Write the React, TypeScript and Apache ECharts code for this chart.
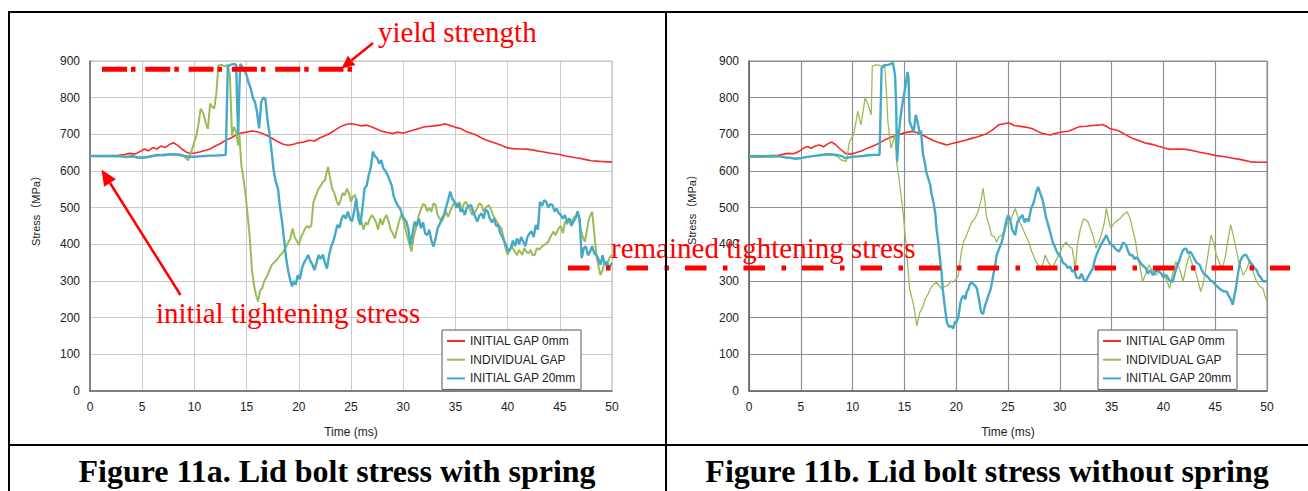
import React, { useEffect, useRef } from "react";
import * as echarts from "echarts";

const SERIES_NAMES = ["INITIAL GAP 0mm", "INDIVIDUAL GAP", "INITIAL GAP 20mm"];
const X_NAME = "Time (ms)";
const Y_NAME = "Stress（MPa）";
const CAPTION_A = "Figure 11a. Lid bolt stress with spring";
const CAPTION_B = "Figure 11b. Lid bolt stress without spring";
const NOTE_YIELD = "yield strength";
const NOTE_INITIAL = "initial tightening stress";
const NOTE_REMAINED = "remained tightening stress";

// ---- Figure 11a (with spring) ----
const redA = [[0,641],[1,641],[2,642],[2.7,643],[3.3,645],[3.8,648],[4.3,646],[4.8,653],[5.2,660],[5.6,655],[6,664],[6.4,660],[6.8,668],[7.2,664],[7.6,672],[8,677],[8.4,670],[8.8,660],[9.2,652],[9.6,648],[10,649],[10.5,652],[11,656],[11.5,660],[12,668],[12.5,675],[13,684],[13.5,690],[14,698],[14.5,704],[15,706],[15.5,709],[16,707],[16.5,702],[17,696],[17.5,688],[18,680],[18.5,673],[19,670],[19.5,673],[20,677],[20.5,679],[21,684],[21.5,682],[22,690],[22.5,696],[23,703],[23.5,712],[24,721],[24.5,727],[25,729],[25.5,727],[26,723],[26.5,725],[27,720],[27.5,714],[28,708],[28.5,705],[29,702],[29.5,706],[30,703],[30.5,708],[31,712],[31.5,716],[32,720],[32.5,722],[33,723],[33.5,725],[34,729],[34.5,724],[35,719],[35.5,716],[36,708],[36.5,703],[37,698],[37.5,690],[38,684],[38.5,679],[39,674],[39.5,669],[40,663],[40.5,661],[41,660],[41.5,660],[42,659],[42.5,657],[43,654],[43.5,652],[44,649],[44.5,647],[45,645],[45.5,641],[46,639],[46.5,636],[47,634],[47.5,631],[48,628],[48.5,627],[49,626],[49.5,625],[50,625]];

const greenA = [[0,641],[1,640],[2,641],[3,640],[4,638],[5,637],[6,641],[7,644],[8,645],[9,641],[9.4,629],[9.6,645],[9.8,661],[10,680],[10.2,697],[10.4,730],[10.6,770],[10.8,760],[10.9,752],[11.1,730],[11.3,715],[11.5,784],[11.7,775],[11.9,770],[12.1,811],[12.2,850],[12.3,888],[12.6,890],[12.9,885],[13.2,890],[13.4,860],[13.6,697],[13.8,720],[14,707],[14.2,670],[14.3,700],[14.5,615],[14.7,580],[14.9,535],[15.1,480],[15.3,420],[15.5,334],[15.7,290],[15.9,262],[16.1,244],[16.3,275],[16.5,280],[16.7,300],[17,316],[17.2,330],[17.4,343],[17.6,350],[17.8,355],[18,362],[18.2,370],[18.4,375],[18.7,389],[18.9,400],[19.2,416],[19.4,443],[19.6,420],[19.8,410],[20,398],[20.2,420],[20.4,430],[20.6,443],[20.8,450],[21,445],[21.2,452],[21.4,515],[21.6,530],[21.9,552],[22.1,560],[22.3,570],[22.5,575],[22.7,600],[22.8,611],[23,580],[23.2,552],[23.4,540],[23.6,520],[23.8,506],[24,520],[24.2,540],[24.4,534],[24.6,552],[24.8,540],[25,516],[25.2,530],[25.4,535],[25.6,500],[25.8,480],[26,462],[26.2,440],[26.4,460],[26.6,453],[26.8,470],[27,480],[27.2,471],[27.4,460],[27.6,440],[27.8,470],[28,453],[28.2,470],[28.4,480],[28.6,462],[28.8,440],[29,430],[29.2,416],[29.4,440],[29.6,462],[29.8,480],[30,470],[30.2,444],[30.4,420],[30.6,400],[30.8,380],[31,420],[31.3,453],[31.5,480],[31.7,495],[31.9,510],[32.1,507],[32.3,490],[32.5,500],[32.7,489],[32.9,512],[33.1,507],[33.3,480],[33.5,470],[33.7,462],[33.9,475],[34.1,489],[34.3,475],[34.5,490],[34.7,505],[35,516],[35.2,500],[35.4,516],[35.6,490],[35.8,510],[36,516],[36.2,505],[36.4,495],[36.6,480],[36.9,489],[37.1,500],[37.3,512],[37.5,507],[37.7,490],[37.9,500],[38.2,507],[38.4,495],[38.6,480],[38.8,470],[39,460],[39.2,450],[39.4,444],[39.6,420],[39.8,390],[40,371],[40.2,385],[40.4,395],[40.7,380],[40.9,370],[41.1,385],[41.4,371],[41.6,390],[41.8,380],[42,375],[42.2,385],[42.4,370],[42.6,371],[42.8,390],[43,385],[43.3,394],[43.6,400],[43.9,407],[44.1,420],[44.4,435],[44.6,425],[44.9,444],[45.1,450],[45.3,430],[45.5,462],[45.7,455],[45.9,471],[46.1,460],[46.4,475],[46.8,480],[47,440],[47.2,420],[47.4,407],[47.6,440],[47.8,470],[48.1,489],[48.3,430],[48.5,371],[48.7,340],[48.9,316],[49.1,330],[49.3,353],[49.5,340],[49.7,360],[50,371]];

const blueA = [[0,641],[1,641],[2,641],[3,640],[3.5,638],[4,641],[4.5,637],[5,636],[5.5,638],[6,641],[6.5,644],[7,643],[7.5,645],[8,646],[8.5,645],[9,641],[9.5,639],[10,639],[10.5,640],[11,641],[11.5,642],[12,642],[12.5,643],[13,644],[13.1,760],[13.2,885],[13.5,890],[13.8,892],[14.0,889],[14.1,780],[14.2,700],[14.3,820],[14.4,892],[14.7,880],[15.0,861],[15.2,840],[15.4,825],[15.6,800],[15.8,788],[16.0,760],[16.2,716],[16.4,788],[16.6,800],[16.8,797],[17.0,740],[17.2,700],[17.4,652],[17.6,600],[17.8,570],[18.0,553],[18.2,500],[18.4,462],[18.6,410],[18.8,360],[19.0,325],[19.2,300],[19.35,285],[19.5,300],[19.7,290],[19.9,316],[20.1,305],[20.3,334],[20.5,350],[20.7,360],[20.9,371],[21.1,355],[21.3,345],[21.5,330],[21.7,350],[21.9,371],[22.1,360],[22.3,372],[22.5,350],[22.7,334],[22.9,370],[23.1,395],[23.3,407],[23.5,430],[23.7,453],[23.9,445],[24.1,470],[24.3,480],[24.5,470],[24.7,489],[24.9,470],[25.1,462],[25.3,490],[25.5,525],[25.7,470],[25.9,453],[26.1,500],[26.3,553],[26.5,560],[26.7,589],[26.9,610],[27.1,653],[27.3,640],[27.5,635],[27.7,620],[27.9,630],[28.1,607],[28.3,600],[28.5,589],[28.7,575],[28.9,560],[29.1,530],[29.3,516],[29.5,505],[29.7,498],[29.9,480],[30.1,470],[30.3,462],[30.5,440],[30.7,398],[30.9,430],[31.1,462],[31.3,450],[31.5,470],[31.7,444],[31.9,460],[32.1,430],[32.3,425],[32.5,440],[32.7,410],[32.9,394],[33.1,415],[33.3,444],[33.5,455],[33.7,470],[33.9,480],[34.1,500],[34.3,520],[34.5,544],[34.7,525],[34.9,516],[35.1,500],[35.3,512],[35.5,489],[35.7,495],[35.9,480],[36.1,500],[36.3,505],[36.5,507],[36.7,490],[36.9,475],[37.1,462],[37.3,478],[37.5,485],[37.7,470],[37.9,495],[38.1,489],[38.3,470],[38.5,460],[38.7,470],[38.9,450],[39.1,453],[39.3,430],[39.5,420],[39.7,407],[39.9,395],[40.1,380],[40.3,389],[40.5,410],[40.7,395],[40.9,416],[41.1,400],[41.3,420],[41.5,407],[41.7,395],[41.9,420],[42.1,430],[42.3,435],[42.5,420],[42.7,453],[42.9,440],[43.1,516],[43.3,505],[43.5,520],[43.7,516],[43.9,500],[44.1,510],[44.3,507],[44.5,490],[44.7,498],[44.9,485],[45.1,480],[45.3,470],[45.5,480],[45.7,460],[45.9,471],[46.1,450],[46.3,462],[46.5,470],[46.7,490],[46.9,470],[47.1,362],[47.3,390],[47.5,394],[47.7,370],[47.9,380],[48.1,395],[48.3,375],[48.5,371],[48.7,360],[48.9,344],[49.1,370],[49.3,344],[49.5,353],[49.7,335],[49.9,344],[50,350]];

// ---- Figure 11b (without spring) ----
const redB = [[0,641],[1,641],[2,642],[2.8,643],[3.4,646],[3.8,648],[4.3,647],[4.8,653],[5.2,661],[5.6,667],[6,662],[6.4,668],[6.8,671],[7.2,666],[7.6,674],[8,679],[8.4,671],[8.8,660],[9.3,648],[9.8,646],[10.3,650],[10.9,655],[11.5,663],[12.2,671],[12.7,678],[13.1,685],[13.7,692],[14.4,699],[15,704],[15.7,708],[16.2,705],[16.7,699],[17.3,690],[17.9,682],[18.5,676],[19.1,671],[19.6,675],[20.2,679],[20.8,683],[21.5,689],[22,693],[22.8,700],[23.4,710],[24.1,726],[24.6,729],[25.1,731],[25.6,724],[26.4,721],[27,718],[27.4,715],[28,706],[28.3,703],[28.7,700],[29.1,698],[29.5,702],[29.9,705],[30.4,707],[30.9,709],[31.4,715],[31.9,721],[32.5,722],[33.2,724],[33.7,725],[34.1,727],[34.5,722],[34.8,716],[35.2,713],[35.7,709],[36.3,700],[37,689],[37.6,683],[38.3,676],[39,672],[39.6,667],[40.1,663],[40.6,659],[41.4,660],[42.2,659],[42.9,655],[43.5,651],[44.3,647],[45.1,642],[45.9,639],[46.7,635],[47.5,631],[48.4,625],[49.2,624],[50,624]];

const greenB = [[0,637],[1,637],[2,638],[3,640],[4,636],[5,636],[6,640],[7,642],[8,644],[8.5,640],[8.9,630],[9.4,626],[9.7,680],[10.1,699],[10.3,730],[10.5,763],[10.8,726],[11.0,760],[11.2,799],[11.5,781],[11.8,753],[11.9,886],[12.3,890],[12.8,886],[13.1,890],[13.3,800],[13.4,735],[13.7,662],[14.1,699],[14.25,626],[14.6,553],[14.9,479],[15.2,388],[15.5,279],[15.9,233],[16.2,178],[16.5,215],[16.8,230],[17.0,251],[17.3,265],[17.5,279],[17.8,290],[18.1,297],[18.4,285],[18.6,279],[18.9,285],[19.2,288],[19.5,300],[19.7,297],[20.0,305],[20.2,315],[20.5,380],[20.7,406],[21.0,425],[21.2,440],[21.5,461],[21.8,470],[22.1,489],[22.4,520],[22.6,553],[22.8,510],[22.9,479],[23.2,450],[23.4,425],[23.7,420],[23.9,406],[24.1,420],[24.4,425],[24.7,440],[25.0,461],[25.3,470],[25.7,498],[26.0,470],[26.4,444],[26.7,425],[27.0,407],[27.3,380],[27.7,353],[28.0,340],[28.2,335],[28.4,350],[28.6,371],[28.9,350],[29.3,335],[29.6,355],[29.9,371],[30.2,390],[30.6,407],[30.9,395],[31.2,389],[31.5,335],[31.7,400],[32.0,444],[32.3,470],[32.7,462],[33.0,440],[33.2,425],[33.5,389],[33.8,410],[34.0,425],[34.3,460],[34.5,498],[34.7,470],[34.9,444],[35.2,455],[35.4,462],[35.8,470],[36.1,480],[36.5,489],[36.8,470],[37.0,444],[37.3,410],[37.5,371],[37.8,330],[38.0,298],[38.3,320],[38.6,344],[38.9,330],[39.3,316],[39.6,330],[39.9,335],[40.2,310],[40.6,280],[40.9,320],[41.2,353],[41.6,330],[41.9,298],[42.2,340],[42.5,371],[42.8,345],[43.2,316],[43.6,271],[43.9,300],[44.1,335],[44.4,390],[44.6,425],[44.9,400],[45.1,371],[45.4,350],[45.7,335],[46.0,370],[46.2,407],[46.5,453],[46.7,430],[47.0,389],[47.3,350],[47.7,316],[48.0,330],[48.3,353],[48.6,330],[49.0,298],[49.3,285],[49.6,280],[49.8,260],[50.0,244]];

const blueB = [[0,640],[1,640],[2,641],[3,640],[3.5,637],[4,636],[4.5,633],[5,635],[5.5,638],[6,640],[6.5,642],[7,644],[7.5,646],[8,645],[8.5,644],[9,640],[9.3,635],[9.7,637],[10,639],[10.5,640],[11,641],[11.5,643],[12,644],[12.6,644],[12.8,881],[13.1,888],[13.5,890],[13.9,895],[14.1,860],[14.2,781],[14.3,626],[14.45,699],[14.6,740],[14.75,772],[14.9,799],[15.1,830],[15.3,870],[15.4,854],[15.5,735],[15.7,720],[15.9,708],[16.1,753],[16.3,730],[16.5,699],[16.6,710],[16.8,644],[17.0,620],[17.1,598],[17.3,580],[17.5,562],[17.6,540],[17.8,516],[18.0,480],[18.1,443],[18.3,400],[18.4,370],[18.6,320],[18.7,279],[18.9,230],[19.1,187],[19.3,175],[19.5,178],[19.7,170],[19.9,190],[20.0,187],[20.2,200],[20.4,240],[20.5,251],[20.7,260],[20.9,250],[21.0,269],[21.2,280],[21.3,290],[21.5,297],[21.7,290],[21.9,285],[22.0,279],[22.2,250],[22.4,215],[22.6,210],[22.8,235],[22.9,242],[23.1,260],[23.3,275],[23.4,288],[23.6,320],[23.8,350],[23.9,370],[24.1,385],[24.3,400],[24.4,406],[24.6,430],[24.8,460],[25.0,479],[25.2,470],[25.4,440],[25.6,430],[25.7,425],[25.9,460],[26.1,470],[26.4,480],[26.6,460],[26.8,470],[27.0,462],[27.2,495],[27.5,516],[27.7,540],[27.9,557],[28.1,540],[28.3,525],[28.5,500],[28.7,470],[28.8,462],[29.0,440],[29.2,420],[29.3,407],[29.5,395],[29.7,380],[29.9,371],[30.1,365],[30.3,350],[30.6,344],[30.8,335],[31.0,340],[31.2,325],[31.4,330],[31.6,310],[31.9,307],[32.1,320],[32.3,305],[32.5,298],[32.7,310],[32.9,320],[33.2,335],[33.4,360],[33.6,375],[33.8,389],[34.0,400],[34.2,410],[34.5,425],[34.7,410],[34.9,400],[35.1,398],[35.3,390],[35.5,385],[35.7,380],[35.9,390],[36.1,405],[36.4,398],[36.6,380],[36.8,370],[37.0,371],[37.2,360],[37.4,365],[37.7,353],[37.9,345],[38.1,340],[38.3,335],[38.5,320],[38.7,330],[39.0,316],[39.2,325],[39.4,330],[39.6,325],[39.8,320],[40.0,310],[40.3,316],[40.5,305],[40.7,300],[40.9,298],[41.1,320],[41.3,340],[41.5,353],[41.7,370],[41.9,385],[42.2,389],[42.4,375],[42.6,380],[42.8,371],[43.0,360],[43.2,350],[43.5,344],[43.7,330],[43.9,320],[44.1,316],[44.3,310],[44.6,300],[44.8,298],[45.0,290],[45.2,285],[45.4,280],[45.6,275],[45.8,272],[46.1,271],[46.3,260],[46.5,250],[46.7,235],[46.85,260],[47.0,280],[47.2,320],[47.4,353],[47.6,365],[47.8,371],[48.0,371],[48.2,360],[48.4,350],[48.6,344],[48.8,335],[49.0,330],[49.2,316],[49.4,310],[49.6,300],[49.8,298],[50,300]];

const RED = "#f52b2b";
const GREEN = "#9bbb59";
const BLUE = "#46a9c6";
const ANNOT = "#ff0000";
const SANS = "'Liberation Sans', Arial, 'Noto Sans CJK JP', sans-serif";
const SERIF = "'Liberation Serif', 'Times New Roman', serif";

function arrowHead(tip: number[], tail: number[], len: number, half: number) {
  const dx = tip[0] - tail[0];
  const dy = tip[1] - tail[1];
  const d = Math.hypot(dx, dy);
  const ux = dx / d, uy = dy / d;
  const bx = tip[0] - ux * len, by = tip[1] - uy * len;
  const px = -uy * half, py = ux * half;
  return { base: [bx, by], points: [tip, [bx + px, by + py], [bx - px, by - py]] };
}

export default function App() {
  const ref = useRef<HTMLDivElement>(null);
  useEffect(() => {
    if (!ref.current) return;
    const chart = echarts.init(ref.current, undefined, { renderer: "svg" });

    const grids = [
      { left: 90, top: 61, width: 522, height: 330, border: "#b4b4b4", split: "#cbcbcb", splitW: 1 },
      { left: 749, top: 61, width: 518, height: 330, border: "#8a8a8a", split: "#8f8f8f", splitW: 1.2 },
    ];
    const labelStyle = { fontFamily: SANS, fontSize: 12, color: "#222" };

    const legendBase = (left: number) => ({
      left,
      top: 330,
      orient: "vertical",
      icon: "rect",
      itemWidth: 18,
      itemHeight: 2,
      itemGap: 4.7,
      padding: [4, 5, 4, 5],
      borderColor: "#555",
      borderWidth: 1,
      backgroundColor: "#fff",
      textStyle: { fontFamily: SANS, fontSize: 12, color: "#222", lineHeight: 14 },
      data: SERIES_NAMES,
    });

    const mkSeries = (name: string, data: number[][], idx: number, color: string, width: number, z: number) => ({
      name,
      type: "line",
      xAxisIndex: idx,
      yAxisIndex: idx,
      data,
      symbol: "none",
      z,
      lineStyle: { color, width },
      itemStyle: { color },
    });

    const yieldTail = [373, 43], yieldTip = [341.5, 68.5];
    const yh = arrowHead(yieldTip, yieldTail, 13, 6);
    const initTail = [180.5, 295], initTip = [101.5, 169.5];
    const ih = arrowHead(initTip, initTail, 16, 7);

    const border = (x1: number, y1: number, x2: number, y2: number) => ({
      type: "line",
      z: 200,
      shape: { x1, y1, x2, y2 },
      style: { stroke: "#000", lineWidth: 2 },
    });

    chart.setOption({
      animation: false,
      backgroundColor: "#fff",
      grid: grids.map((g) => ({
        left: g.left, top: g.top, width: g.width, height: g.height,
        show: true, borderColor: g.border, borderWidth: 1, backgroundColor: "#fff",
      })),
      xAxis: grids.map((g, i) => ({
        type: "value", gridIndex: i, min: 0, max: 50, interval: 5,
        axisLine: { show: true, onZero: false, lineStyle: { color: "#666", width: 1.5 } },
        axisTick: { show: false },
        splitLine: { show: true, lineStyle: { color: g.split, width: g.splitW } },
        axisLabel: { ...labelStyle, margin: 10 },
        name: X_NAME, nameLocation: "middle", nameGap: 35,
        nameTextStyle: { fontFamily: SANS, fontSize: 12, color: "#222" },
      })),
      yAxis: grids.map((g, i) => ({
        type: "value", gridIndex: i, min: 0, max: 900, interval: 100,
        axisLine: { show: true, onZero: false, lineStyle: { color: "#666", width: 1.5 } },
        axisTick: { show: false },
        splitLine: { show: true, lineStyle: { color: g.split, width: g.splitW } },
        axisLabel: { ...labelStyle, margin: 10 },
      })),
      legend: [legendBase(442), legendBase(1098)],
      series: [
        mkSeries(SERIES_NAMES[0], redA, 0, RED, 1.6, 3),
        mkSeries(SERIES_NAMES[1], greenA, 0, GREEN, 2, 4),
        mkSeries(SERIES_NAMES[2], blueA, 0, BLUE, 2.4, 5),
        mkSeries(SERIES_NAMES[0], redB, 1, RED, 1.6, 3),
        mkSeries(SERIES_NAMES[1], greenB, 1, GREEN, 1.3, 4),
        mkSeries(SERIES_NAMES[2], blueB, 1, BLUE, 2.4, 5),
      ],
      graphic: [
        border(9, 12, 1308, 12),
        border(9, 11, 9, 491),
        border(666, 11, 666, 491),
        border(9, 445, 1308, 445),
        {
          type: "text", z: 200, x: 36, y: 208, rotation: Math.PI / 2,
          style: { text: Y_NAME, fill: "#222", fontFamily: SANS, fontSize: 11, align: "center", verticalAlign: "middle" },
        },
        {
          type: "text", z: 200, x: 692, y: 207, rotation: Math.PI / 2,
          style: { text: Y_NAME, fill: "#222", fontFamily: SANS, fontSize: 11, align: "center", verticalAlign: "middle" },
        },
        {
          type: "text", z: 200, x: 337, y: 471,
          style: { text: CAPTION_A, fill: "#000", fontFamily: SERIF, fontWeight: "bold", fontSize: 32, align: "center", verticalAlign: "middle" },
        },
        {
          type: "text", z: 200, x: 987, y: 471,
          style: { text: CAPTION_B, fill: "#000", fontFamily: SERIF, fontWeight: "bold", fontSize: 32, align: "center", verticalAlign: "middle" },
        },
        {
          type: "line", z: 150, shape: { x1: 102, y1: 69.3, x2: 355, y2: 69.3 },
          style: { stroke: ANNOT, lineWidth: 5, lineDash: [25, 4, 4.5, 9.8] },
        },
        {
          type: "line", z: 150, shape: { x1: 568, y1: 268, x2: 1290, y2: 268 },
          style: { stroke: ANNOT, lineWidth: 5, lineDash: [21.5, 16.5, 4.5, 16] },
        },
        {
          type: "line", z: 150, shape: { x1: yieldTail[0], y1: yieldTail[1], x2: yh.base[0], y2: yh.base[1] },
          style: { stroke: ANNOT, lineWidth: 2.5 },
        },
        { type: "polygon", z: 150, shape: { points: yh.points }, style: { fill: ANNOT } },
        {
          type: "line", z: 150, shape: { x1: initTail[0], y1: initTail[1], x2: ih.base[0], y2: ih.base[1] },
          style: { stroke: ANNOT, lineWidth: 2.5 },
        },
        { type: "polygon", z: 150, shape: { points: ih.points }, style: { fill: ANNOT } },
        {
          type: "text", z: 150, x: 378, y: 32,
          style: { text: NOTE_YIELD, fill: ANNOT, fontFamily: SERIF, fontSize: 29, align: "left", verticalAlign: "middle" },
        },
        {
          type: "text", z: 150, x: 156, y: 312.7,
          style: { text: NOTE_INITIAL, fill: ANNOT, fontFamily: SERIF, fontSize: 29, align: "left", verticalAlign: "middle" },
        },
        {
          type: "text", z: 150, x: 611, y: 248.3,
          style: { text: NOTE_REMAINED, fill: ANNOT, fontFamily: SERIF, fontSize: 29, align: "left", verticalAlign: "middle" },
        },
      ],
    });
    return () => chart.dispose();
  }, []);

  return (
    <div
      ref={ref}
      style={{ position: "fixed", left: 0, top: 0, width: 1308, height: 491, background: "#fff" }}
    />
  );
}
